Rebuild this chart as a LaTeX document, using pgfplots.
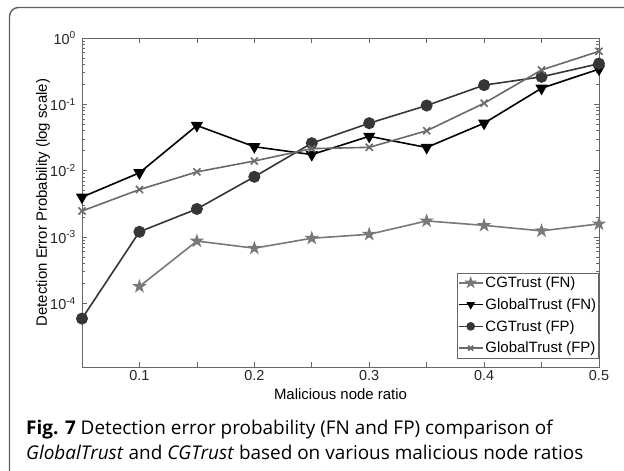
\documentclass[border=0pt]{standalone}
\usepackage{fontspec}
\setmainfont{Liberation Sans}
\newfontfamily\capfont{Open Sans}
\usepackage{pgfplots}
\pgfplotsset{compat=1.18}
\definecolor{cgfn}{HTML}{787878}
\definecolor{cgfp}{HTML}{363636}
\definecolor{gtfp}{HTML}{6A6A6A}
\definecolor{framec}{HTML}{606060}
\pgfdeclareplotmark{pentagram}{%
  \pgfpathmoveto{\pgfpointpolar{90}{1.2\pgfplotmarksize}}%
  \pgfpathlineto{\pgfpointpolar{126}{0.46\pgfplotmarksize}}%
  \pgfpathlineto{\pgfpointpolar{162}{1.2\pgfplotmarksize}}%
  \pgfpathlineto{\pgfpointpolar{198}{0.46\pgfplotmarksize}}%
  \pgfpathlineto{\pgfpointpolar{234}{1.2\pgfplotmarksize}}%
  \pgfpathlineto{\pgfpointpolar{270}{0.46\pgfplotmarksize}}%
  \pgfpathlineto{\pgfpointpolar{306}{1.2\pgfplotmarksize}}%
  \pgfpathlineto{\pgfpointpolar{342}{0.46\pgfplotmarksize}}%
  \pgfpathlineto{\pgfpointpolar{18}{1.2\pgfplotmarksize}}%
  \pgfpathlineto{\pgfpointpolar{54}{0.46\pgfplotmarksize}}%
  \pgfpathclose\pgfusepathqfillstroke}
\begin{document}
\begin{tikzpicture}
\useasboundingbox (0bp,0bp) rectangle (624bp,-471bp);
\clip (0bp,0bp) rectangle (624bp,-471bp);
\fill[white] (0bp,0bp) rectangle (624bp,-471bp);
\draw[framec, line width=1.4bp, rounded corners=9bp] (9.5bp,-7.5bp) rectangle (680bp,-540bp);
\begin{axis}[
  at={(82bp,-367bp)}, anchor=south west,
  scale only axis, width=517bp, height=329bp,
  xmin=0.05, xmax=0.5,
  ymode=log, ymin=1.1e-5, ymax=1,
  xtick={0.05,0.1,...,0.51},
  xticklabels={,0.1,,0.2,,0.3,,0.4,,0.5},
  ytick={1e-4,1e-3,1e-2,1e-1,1},
  yticklabels={10\textsuperscript{-4},10\textsuperscript{-3},10\textsuperscript{-2},10\textsuperscript{-1},10\textsuperscript{0}},
  axis line style={gray!80!black, line width=0.8bp},
  tick style={gray!80!black, line width=0.6bp},
  major tick length=5bp, minor tick length=3bp,
  tick label style={font=\fontsize{14.5}{16}\selectfont, text=black!85},
  yticklabel style={anchor=east, inner xsep=1bp, xshift=-5bp},
  xlabel={Malicious node ratio},
  ylabel={Detection Error Probability (log scale)},
  xlabel style={yshift=-1bp, font=\fontsize{15}{17}\selectfont},
  every axis y label/.style={at={(axis description cs:0,0.5)}, rotate=90, anchor=center, yshift=39bp, font=\fontsize{15}{17}\selectfont},
  legend style={at={(1,0.027)}, anchor=south east, draw=gray!80!black, line width=0.6bp,
    font=\fontsize{15}{17}\selectfont, inner xsep=0.5bp, inner ysep=1.5bp, row sep=5.5bp, legend cell align=left},
  legend image code/.code={\draw[mark repeat=2,mark phase=2,mark size=3.5bp] plot coordinates {(0bp,0bp) (12bp,0bp) (24bp,0bp)};},
  every axis plot/.append style={line width=1.6bp},
]
\addplot[cgfn, mark=pentagram, mark size=4.2bp, mark options={fill=cgfn}] coordinates {
 (0.10,1.8e-4) (0.15,8.7e-4) (0.20,6.8e-4) (0.25,9.6e-4) (0.30,1.1e-3)
 (0.35,1.75e-3) (0.40,1.5e-3) (0.45,1.24e-3) (0.50,1.58e-3)};
\addlegendentry{CGTrust (FN)}
\addplot[black, mark=triangle*, mark size=5.5bp, mark options={rotate=180, fill=black}] coordinates {
 (0.05,4.0e-3) (0.10,9.3e-3) (0.15,4.8e-2) (0.20,2.3e-2) (0.25,1.75e-2) (0.30,3.3e-2)
 (0.35,2.24e-2) (0.40,5.2e-2) (0.45,0.175) (0.50,0.34)};
\addlegendentry{GlobalTrust (FN)}
\addplot[cgfp, mark=*, mark size=5.2bp, mark options={fill=cgfp}] coordinates {
 (0.05,5.9e-5) (0.10,1.2e-3) (0.15,2.65e-3) (0.20,8.1e-3) (0.25,2.6e-2) (0.30,5.2e-2)
 (0.35,0.096) (0.40,0.195) (0.45,0.26) (0.50,0.41)};
\addlegendentry{CGTrust (FP)}
\addplot[gtfp, mark=x, mark size=5bp] coordinates {
 (0.05,2.47e-3) (0.10,5.2e-3) (0.15,9.6e-3) (0.20,1.4e-2) (0.25,2.15e-2) (0.30,2.25e-2)
 (0.35,4.0e-2) (0.40,0.104) (0.45,0.33) (0.50,0.63)};
\addlegendentry{GlobalTrust (FP)}
\end{axis}
\node[anchor=base west, inner sep=0pt, font=\capfont\fontsize{19}{22}\selectfont] at (26bp,-434bp)
  {\textbf{Fig. 7} Detection error probability (FN and FP) comparison of};
\node[anchor=base west, inner sep=0pt, font=\capfont\fontsize{19}{22}\selectfont] at (26bp,-459bp)
  {\textit{GlobalTrust} and \textit{CGTrust} based on various malicious node ratios};
\end{tikzpicture}
\end{document}
